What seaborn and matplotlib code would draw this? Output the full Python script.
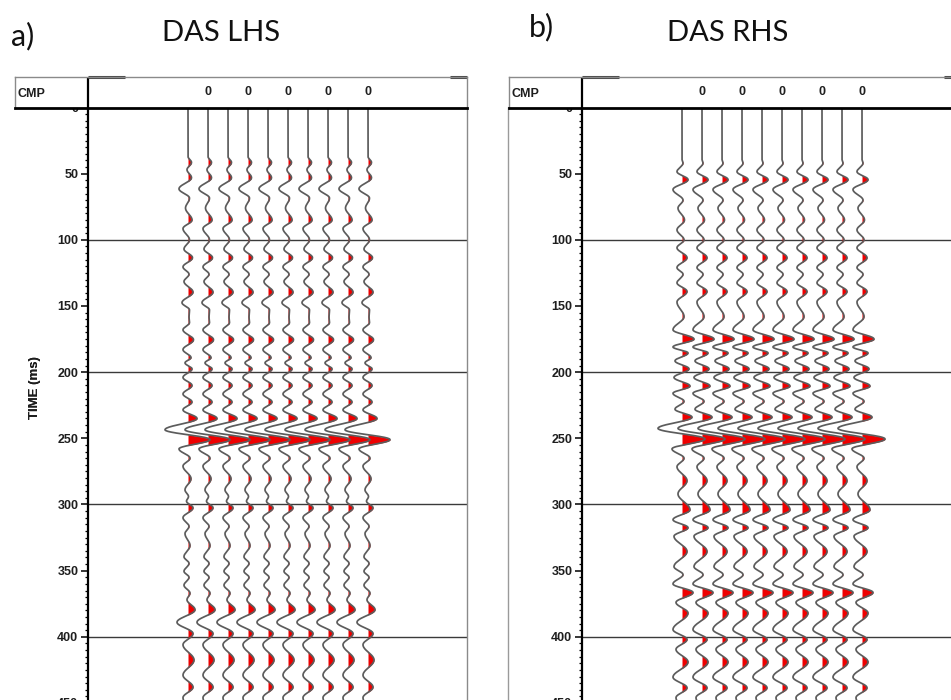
import numpy as np
import pandas as pd
import matplotlib
matplotlib.use("Agg")
import matplotlib.pyplot as plt
from matplotlib.lines import Line2D
from matplotlib.ticker import MultipleLocator
import seaborn as sns

# ---------------------------------------------------------------- data
# ten CMP traces per panel, all sharing the same waveform
TRACE_INDEX = list(range(10))
HEADER_TRACES = [1, 3, 5, 7, 9]
HEADER_LABELS = ["0", "0", "0", "0", "0"]
TIME_TICKS = list(range(0, 451, 50))
GRID_TIMES = [100, 200, 300, 400]

# successive extrema of the LHS trace: time (ms) and amplitude
LHS_TIME = [0, 37, 41.5, 47, 53, 61.5, 68.5, 76, 85, 91.5, 100, 107, 113.5,
            120.5, 126, 131.5, 139.5, 147.5, 153, 158, 162.5, 168, 175.5,
            183, 189, 193, 197.5, 204, 210, 216.5, 222.5, 228.5, 235, 243.5,
            251, 258, 265, 271, 280.5, 289, 294, 297.5, 302.5, 310, 316.5,
            322, 331, 339.5, 344.5, 350.5, 355, 361, 367, 372, 379.5, 389,
            397.5, 406, 417.5, 429, 438, 446, 455, 470]
LHS_AMP = [0, 0, 3.5, -1, 3.5, -9, 1.5, -2.5, 4, -5, 1.5, -4, 4.5,
           -5, 1, -4, 5, -6, 1.5, 1.0, 1.5, -5, 5.5,
           -5, 3, -3, 4, -5, 4, -5, 4, -5, 9, -23,
           22, -9, 2, -5, 3, -3, 0.5, -1.5, 5, -5, 1,
           -3, 2, -4, 1, -4, 1, -4, 2, -1, 7, -11,
           5, -5, 6, -5, 5, -5, 0, 0]

# successive extrema of the RHS trace: time (ms) and amplitude
RHS_TIME = [0, 39, 42, 48.5, 54.5, 62, 70, 76, 85, 92.5, 100, 106, 113.5,
            121, 126, 132.5, 139, 147, 158, 168, 175, 181, 185.5, 191.5,
            197.5, 204, 210.5, 216, 222, 228, 234, 242.5, 250.5, 258, 265,
            271.5, 282, 292, 304, 311.5, 317.5, 324, 335.5, 347, 353, 360,
            366.5, 374, 382, 394.5, 402, 409.5, 419, 430.5, 438.5, 446, 455,
            470]
RHS_AMP = [0, 0, 1, -5, 6, -9, 1, -4, 2.5, -5, 2, -5, 5,
           -5, 1, -5, 5, -5, 2, -9, 12, -9, 6, -7,
           7, -8, 8, -9, 2, -7, 10, -24, 23, -10, 2,
           -5, 5, -4, 8, -9, 6, -8, 5, -8, 1, -9,
           11, -6, 6, -9, 5, -6, 6, -9, 5, -6, 0,
           0]

# ---------------------------------------------------------------- style
W, H, DPI = 951, 700, 100
GAIN = 20.0            # amplitude units per trace spacing
PX_PER_MS = 1.3233
T_MAX = 470
FILL = "#ee0000"
WIGGLE = "#5c5c5c"
TITLE_FONT = ["Lato", "DejaVu Sans"]

sns.set_theme(style="white")
plt.rcParams["font.family"] = ["Liberation Sans", "DejaVu Sans"]


def fx(px):
    return px / W


def fy(py):
    return 1 - py / H


def wiggle_curve(times, amps, dt=0.25):
    """Smooth half-cosine arcs joining consecutive extrema."""
    t = np.arange(times[0], times[-1] + dt / 2, dt)
    a = np.zeros_like(t)
    for t0, a0, t1, a1 in zip(times[:-1], amps[:-1], times[1:], amps[1:]):
        m = (t >= t0) & (t <= t1)
        s = (t[m] - t0) / (t1 - t0)
        a[m] = a0 + (a1 - a0) * (1 - np.cos(np.pi * s)) / 2
    return t, a


fig = plt.figure(figsize=(W / DPI, H / DPI), dpi=DPI)


def draw_panel(left_px, first_trace_px, times, amps,
               letter, letter_xy, title, title_x):
    top_px = 107.5
    bottom_px = top_px + T_MAX * PX_PER_MS
    width_px = 379
    ax = fig.add_axes([fx(left_px), fy(bottom_px), width_px / W,
                       (bottom_px - top_px) / H])
    x0 = (left_px - first_trace_px) / 20.0
    x1 = x0 + width_px / 20.0

    t, a = wiggle_curve(times, amps)
    amp = a / GAIN
    offsets = np.array(TRACE_INDEX, dtype=float)
    df = pd.DataFrame({
        "time": np.tile(t, len(offsets)),
        "x": (offsets[:, None] + amp[None, :]).ravel(),
        "trace": np.repeat(TRACE_INDEX, len(t)),
    })

    for g in GRID_TIMES:
        ax.axhline(g, color="#3a3a3a", lw=1.0, zorder=1)
    for k in offsets:
        ax.fill_betweenx(t, k, k + np.clip(amp, 0, None), color=FILL,
                         lw=0, zorder=2)
    sns.lineplot(data=df, x="x", y="time", units="trace", estimator=None,
                 sort=False, orient="y", color=WIGGLE, lw=1.25, ax=ax,
                 zorder=3, legend=False)

    ax.set_xlim(x0, x1)
    ax.set_ylim(T_MAX, 0)
    ax.set_xlabel("")
    ax.set_xticks([])
    ax.set_yticks(TIME_TICKS)
    ax.set_yticklabels([str(v) for v in TIME_TICKS])
    ax.yaxis.set_minor_locator(MultipleLocator(5))
    ax.tick_params(axis="y", which="major", left=True, direction="out",
                   length=5, width=1.1, color="black", labelsize=9, pad=2)
    ax.tick_params(axis="y", which="minor", left=True, direction="out",
                   length=2.5, width=0.9, color="black")
    for lab in ax.get_yticklabels():
        lab.set_fontweight("bold")
        lab.set_color("#1e1e1e")
    ax.set_ylabel("TIME (ms)", fontsize=9.5, fontweight="bold",
                  family=["Liberation Sans Narrow", "Liberation Sans"],
                  color="#1e1e1e")
    ax.yaxis.set_label_coords((41 - left_px) / width_px,
                              (bottom_px - 388) / (bottom_px - top_px))
    ax.spines["left"].set_color("black")
    ax.spines["left"].set_linewidth(1.6)
    ax.spines["right"].set_color("#8a8a8a")
    ax.spines["right"].set_linewidth(1.0)
    ax.spines["top"].set_visible(False)
    ax.spines["bottom"].set_visible(False)
    ax.set_facecolor("white")

    # header strip with the CMP labels
    hl = left_px - 73
    hax = fig.add_axes([fx(hl), fy(top_px), (left_px + width_px - hl) / W,
                        (top_px - 77) / H])
    hax.set_zorder(ax.get_zorder() + 5)
    hx0 = (hl - first_trace_px) / 20.0
    hax.set_xlim(hx0, x1)
    hax.set_ylim(0, 1)
    hax.set_xticks([])
    hax.set_yticks([])
    hax.set_facecolor("white")
    for side in ("top", "left", "right"):
        hax.spines[side].set_color("#8a8a8a")
        hax.spines[side].set_linewidth(1.0)
    hax.spines["bottom"].set_color("black")
    hax.spines["bottom"].set_linewidth(2.0)
    hax.axvline(x0, color="black", lw=1.6)
    hax.plot([x0, x0 + 1.85], [1, 1], color="#444444", lw=2.2,
             clip_on=False, solid_capstyle="butt")
    hax.plot([x1 - 0.85, x1], [1, 1], color="#444444", lw=2.2,
             clip_on=False, solid_capstyle="butt")
    hax.text(hx0 + 0.1, 0.45, "CMP", ha="left", va="center",
             fontsize=9, fontweight="bold", color="#1e1e1e")
    for k, lab in zip(HEADER_TRACES, HEADER_LABELS):
        hax.text(k, 0.52, lab, ha="center", va="center", fontsize=9,
                 fontweight="bold", color="#1e1e1e")

    fig.text(fx(letter_xy[0]), fy(letter_xy[1]), letter, ha="left",
             va="center", fontsize=22, family=TITLE_FONT, color="#111111")
    fig.text(fx(title_x), fy(33), title, ha="left", va="center",
             fontsize=21, family=TITLE_FONT, color="#111111")
    return ax


draw_panel(88, 188, LHS_TIME, LHS_AMP, "a)", (11, 36), "DAS LHS", 162)
draw_panel(582, 682, RHS_TIME, RHS_AMP, "b)", (529, 27), "DAS RHS", 667)

# outer frame line of the right panel
fig.add_artist(Line2D([fx(508), fx(508)], [fy(107), 0], color="#9a9a9a",
                      lw=1.0))

fig.savefig("out.png", dpi=DPI)
